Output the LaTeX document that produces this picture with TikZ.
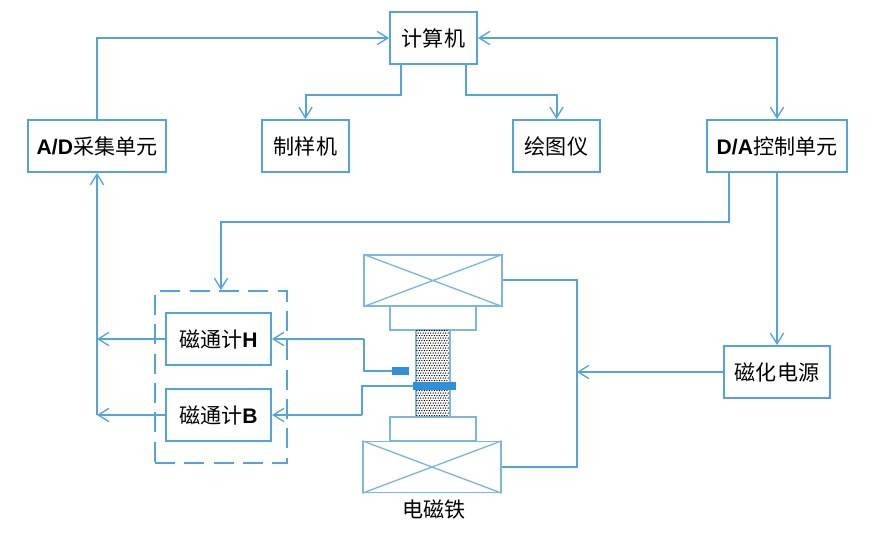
\documentclass[tikz,border=0pt]{standalone}
\usepackage{fontspec}
\setmainfont{Liberation Sans}
\newfontfamily\cjk{Noto Sans CJK SC}
\usetikzlibrary{arrows.meta,calc}
\definecolor{ln}{HTML}{55A3DB}
\definecolor{lt}{HTML}{7DB6DF}
\definecolor{fillb}{HTML}{2F8FD8}
\tikzset{
  x=0.75pt,y=-0.75pt,
  conn/.style={draw=ln,line width=1.5pt},
  arr/.style={conn,-{Straight Barb[length=8pt,width=10pt,line width=1pt]}},
  darr/.style={conn,{Straight Barb[length=8pt,width=10pt,line width=1pt]}-{Straight Barb[length=8pt,width=10pt,line width=1pt]}},
  blockbox/.style={draw=ln,line width=1.5pt,fill=white,minimum height=39pt,inner sep=0pt,font=\fontsize{15.8}{18}\selectfont},
  coil/.style={draw=lt,line width=1pt,minimum height=38.25pt,minimum width=103.5pt,inner sep=0pt},
  pole/.style={draw=lt,line width=1pt,minimum height=18pt,minimum width=64.5pt,inner sep=0pt},
  wire/.style={draw=ln,line width=1.5pt},
  sensor/.style={fill=fillb,draw=none,inner sep=0pt},
}
\begin{document}
\begin{tikzpicture}
\useasboundingbox (0,0) rectangle (892,534);
\fill[white] (0,0) rectangle (892,534);
% boxes
\node[blockbox,minimum width=65.25pt] (pc) at (433.5,38) {\cjk 计算机};
\node[blockbox,minimum width=103.5pt] (ad) at (97,146) {\textbf{A/D}\cjk 采集单元};
\node[blockbox,minimum width=65.25pt] (zy) at (305.5,146) {\cjk 制样机};
\node[blockbox,minimum width=65.25pt] (ht) at (556.5,146) {\cjk 绘图仪};
\node[blockbox,minimum width=105pt] (da) at (777,146) {\textbf{D/A}\cjk 控制单元};
\node[blockbox,minimum width=79.5pt] (ps) at (777,372) {\cjk 磁化电源};
\node[blockbox,minimum width=78.75pt] (fh) at (218.5,339) {{\cjk 磁通计}\textbf{H}};
\node[blockbox,minimum width=78.75pt] (fb) at (218.5,415) {{\cjk 磁通计}\textbf{B}};
\node[draw=ln,line width=1.5pt,dash pattern=on 15pt off 7pt,minimum width=99pt,minimum height=129pt,inner sep=0pt] (grp) at (221,377) {};
% electromagnet
\node[coil] (ct) at (433,280.5) {};
\draw[draw=lt,line width=1pt] (ct.north west) -- (ct.south east) (ct.south west) -- (ct.north east);
\node[coil] (cb) at (432,467) {};
\draw[draw=lt,line width=1pt] (cb.north west) -- (cb.south east) (cb.south west) -- (cb.north east);
\node[pole] (pt) at (433,318) {};
\node[pole] (pb) at (433,429) {};
\node[draw=lt,line width=1pt,minimum width=25.5pt,minimum height=65.5pt,inner sep=0pt] (smp) at (433,373.5) {};
\foreach \i in {0,...,34} {
  \pgfmathsetmacro{\off}{mod(\i,2)*1.25}
  \foreach \j in {0,...,12} {
    \fill[black] ($(smp.north west)+(1.6+\off+\j*2.5,1.4+\i*2.5)$) circle[radius=0.7];
  }
}
\node[sensor,minimum width=13pt,minimum height=5.5pt] (sh) at (400.5,371) {};
\node[sensor,minimum width=32pt,minimum height=5.5pt] (sb) at (434.5,386) {};
\node[font=\fontsize{15.8}{18}\selectfont] (em) at (434,509) {\cjk 电磁铁};
% connectors
\draw[arr] (ad.north) |- (pc.west);
\draw[darr] (pc.east) -| (da.north);
\coordinate (c1) at (401,95);
\coordinate (c2) at (466,95);
\draw[arr] (pc.south -| c1) -- (c1) -| (zy.north);
\draw[arr] (pc.south -| c2) -- (c2) -| (ht.north);
\coordinate (dl) at (729,222);
\draw[arr] (da.south -| dl) -- (dl) -| (grp.north);
\draw[arr] (da.south) -- (ps.north);
\coordinate (j1) at (577,372);
\draw[arr] (ps.west) -- (j1);
\draw[wire] (ct.east) -| (j1) |- (cb.east);
\coordinate (bus) at (97,415);
\draw[arr] (bus) -- (ad.south);
\draw[arr] (fh.west) -- (fh.west -| bus);
\draw[arr] (fb.west) -- (bus);
\coordinate (h1) at (364,339);
\coordinate (h2) at (364,371);
\draw[arr] (h1) -- (fh.east);
\draw[wire] (h1) -- (h2) -- (sh.west);
\coordinate (b1) at (362,415);
\coordinate (b2) at (362,386);
\draw[arr] (b1) -- (fb.east);
\draw[wire] (b1) -- (b2) -- (sb.west);
\end{tikzpicture}
\end{document}
